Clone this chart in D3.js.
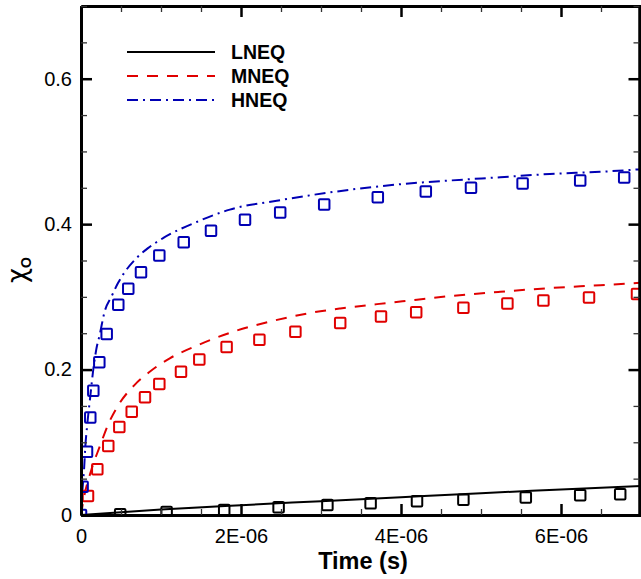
<!DOCTYPE html>
<html>
<head>
<meta charset="utf-8">
<script src="https://cdn.jsdelivr.net/npm/d3@7"></script>
<style>
  html, body { margin: 0; padding: 0; background: #fff; }
  svg { display: block; font-family: "Liberation Sans", Arial, sans-serif; }
</style>
</head>
<body>
<svg id="chart" width="641" height="579"></svg>
<script>
// Time in microseconds (scaled to seconds when plotted), chi_O mole fraction.
const seriesNames = ["LNEQ", "MNEQ", "HNEQ"];
const seriesColors = ["#000000", "#e00000", "#0000b4"];

// Simulation curves
const lneqLineT = [0, 1, 2, 3, 4, 5, 6, 7];
const lneqLineV = [0, 0.0075, 0.0135, 0.019, 0.0245, 0.030, 0.035, 0.040];

const mneqLineT = [0, 0.025, 0.129, 0.234, 0.3375, 0.484, 0.671, 0.859, 1.11, 1.45, 1.9, 2.4, 2.82, 3.24, 3.7, 4.2, 4.61, 5.24, 5.86, 6.49, 7.0];
const mneqLineV = [0, 0.017, 0.062, 0.094, 0.124, 0.154, 0.179, 0.197, 0.2155, 0.233, 0.252, 0.267, 0.277, 0.284, 0.290, 0.296, 0.301, 0.307, 0.312, 0.316, 0.3195];

const hneqLineT = [0, 0.012, 0.025, 0.04, 0.054, 0.075, 0.116, 0.15, 0.19, 0.234, 0.296, 0.379, 0.4625, 0.566, 0.691, 0.8375, 1.03, 1.446, 1.86, 2.49, 3.07, 3.49, 4.0, 4.61, 5.24, 5.86, 6.49, 7.0];
const hneqLineV = [0, 0.025, 0.044, 0.066, 0.094, 0.121, 0.163, 0.197, 0.227, 0.248, 0.280, 0.300, 0.319, 0.337, 0.353, 0.367, 0.381, 0.403, 0.420, 0.433, 0.443, 0.449, 0.455, 0.460, 0.4645, 0.469, 0.472, 0.4755];

// Reference points (square symbols)
const lneqPtsT = [0.49, 1.07, 1.79, 2.47, 3.08, 3.62, 4.2, 4.78, 5.56, 6.24, 6.74];
const lneqPtsV = [0.001, 0.004, 0.007, 0.0105, 0.0137, 0.016, 0.019, 0.021, 0.024, 0.027, 0.0285];

const mneqPtsT = [0.0875, 0.204, 0.341, 0.479, 0.634, 0.8, 0.979, 1.25, 1.479, 1.82, 2.23, 2.68, 3.24, 3.75, 4.19, 4.78, 5.33, 5.78, 6.35, 6.95];
const mneqPtsV = [0.026, 0.063, 0.095, 0.121, 0.142, 0.162, 0.180, 0.197, 0.214, 0.231, 0.241, 0.252, 0.264, 0.273, 0.279, 0.285, 0.291, 0.295, 0.299, 0.304];

const hneqPtsT = [0, 0.02, 0.075, 0.116, 0.154, 0.229, 0.321, 0.466, 0.591, 0.75, 0.979, 1.284, 1.625, 2.05, 2.49, 3.04, 3.71, 4.31, 4.875, 5.52, 6.24, 6.79];
const hneqPtsV = [0, 0.039, 0.087, 0.134, 0.171, 0.210, 0.249, 0.289, 0.311, 0.334, 0.357, 0.375, 0.391, 0.406, 0.416, 0.427, 0.437, 0.445, 0.450, 0.456, 0.460, 0.464];

const xMajorTicks = [0, 2e-6, 4e-6, 6e-6];
const xTickLabels = ["0", "2E-06", "4E-06", "6E-06"];
const yMajorTicks = [0, 0.2, 0.4, 0.6];
const yTickLabels = ["0", "0.2", "0.4", "0.6"];

const svg = d3.select("#chart");
const pLeft = 81, pRight = 641, pTop = 6, pBottom = 515;

const x = d3.scaleLinear().domain([0, 7e-6]).range([pLeft, pRight]);
const y = d3.scaleLinear().domain([0, 0.7]).range([pBottom, pTop]);

const zip = (ts, vs) => ts.map((t, i) => ({ t: t * 1e-6, v: vs[i] }));

const lines = [zip(lneqLineT, lneqLineV), zip(mneqLineT, mneqLineV), zip(hneqLineT, hneqLineV)];
const points = [zip(lneqPtsT, lneqPtsV), zip(mneqPtsT, mneqPtsV), zip(hneqPtsT, hneqPtsV)];
const dashes = [null, "11,9", "11,5,2,5"];

svg.append("defs").append("clipPath").attr("id", "plotClip")
  .append("rect").attr("x", pLeft).attr("y", pTop).attr("width", pRight - pLeft).attr("height", pBottom - pTop);

const plot = svg.append("g").attr("clip-path", "url(#plotClip)");

const lineGen = d3.line().x(d => x(d.t)).y(d => y(d.v)).curve(d3.curveMonotoneX);

lines.forEach((data, i) => {
  plot.append("path")
    .datum(data)
    .attr("d", lineGen)
    .attr("fill", "none")
    .attr("stroke", seriesColors[i])
    .attr("stroke-width", 2)
    .attr("stroke-dasharray", dashes[i]);
});

const sq = 10.5;
points.forEach((data, i) => {
  plot.append("g").selectAll("rect")
    .data(data)
    .join("rect")
    .attr("x", d => x(d.t) - sq / 2)
    .attr("y", d => y(d.v) - sq / 2)
    .attr("width", sq)
    .attr("height", sq)
    .attr("rx", 1)
    .attr("fill", "none")
    .attr("stroke", seriesColors[i])
    .attr("stroke-width", 2);
});

// Axes: ticks point into the plot on all four sides
const xMinor = d3.range(0, 7.01e-6, 0.5e-6).filter(v => !xMajorTicks.some(m => Math.abs(m - v) < 1e-12));
const yMinor = d3.range(0, 0.7001, 0.05).filter(v => !yMajorTicks.some(m => Math.abs(m - v) < 1e-9));
const majorLen = 11, minorLen = 6;

const axB = svg.append("g").attr("transform", `translate(0,${pBottom})`)
  .call(d3.axisBottom(x).tickValues(xMajorTicks).tickSizeInner(-majorLen).tickSizeOuter(0).tickPadding(14)
    .tickFormat((d, i) => xTickLabels[i]));
const axBm = svg.append("g").attr("transform", `translate(0,${pBottom})`)
  .call(d3.axisBottom(x).tickValues(xMinor).tickSizeInner(-minorLen).tickSizeOuter(0).tickFormat(""));
const axT = svg.append("g").attr("transform", `translate(0,${pTop})`)
  .call(d3.axisTop(x).tickValues(xMajorTicks).tickSizeInner(-majorLen).tickSizeOuter(0).tickFormat(""));
const axTm = svg.append("g").attr("transform", `translate(0,${pTop})`)
  .call(d3.axisTop(x).tickValues(xMinor).tickSizeInner(-minorLen).tickSizeOuter(0).tickFormat(""));
const axL = svg.append("g").attr("transform", `translate(${pLeft},0)`)
  .call(d3.axisLeft(y).tickValues(yMajorTicks).tickSizeInner(-majorLen).tickSizeOuter(0).tickPadding(9)
    .tickFormat((d, i) => yTickLabels[i]));
const axLm = svg.append("g").attr("transform", `translate(${pLeft},0)`)
  .call(d3.axisLeft(y).tickValues(yMinor).tickSizeInner(-minorLen).tickSizeOuter(0).tickFormat(""));
const axR = svg.append("g").attr("transform", `translate(${pRight - 1.5},0)`)
  .call(d3.axisRight(y).tickValues(yMajorTicks).tickSizeInner(-majorLen).tickSizeOuter(0).tickFormat(""));
const axRm = svg.append("g").attr("transform", `translate(${pRight - 1.5},0)`)
  .call(d3.axisRight(y).tickValues(yMinor).tickSizeInner(-minorLen).tickSizeOuter(0).tickFormat(""));

[axB, axBm, axT, axTm, axL, axLm, axR, axRm].forEach(g => {
  g.select(".domain").attr("stroke", "#000").attr("stroke-width", 3);
  g.selectAll(".tick line").attr("stroke", "#000").attr("stroke-width", 2.5);
  g.selectAll(".tick text").attr("fill", "#000").attr("font-size", 20)
    .attr("font-family", "'Liberation Sans', Arial, sans-serif");
});
[axBm, axTm, axLm, axRm].forEach(g => g.selectAll(".tick line").attr("stroke-width", 1.3).attr("stroke", "#333"));

// Axis titles
svg.append("text")
  .attr("x", 363).attr("y", 569)
  .attr("text-anchor", "middle")
  .attr("font-size", 23.5).attr("font-weight", "bold")
  .text("Time (s)");

const yTitle = svg.append("text")
  .attr("transform", "translate(26,283) rotate(-90)")
  .attr("text-anchor", "start");
yTitle.append("tspan").attr("font-size", 26).attr("font-family", "'DejaVu Sans', sans-serif").text("χ");
yTitle.append("tspan").attr("font-size", 14).attr("font-weight", "bold").attr("dy", 5).text("O");

// Legend
const legendY = [52, 76, 100];
const legend = svg.append("g");
seriesNames.forEach((name, i) => {
  legend.append("line")
    .attr("x1", 127).attr("x2", 215)
    .attr("y1", legendY[i]).attr("y2", legendY[i])
    .attr("stroke", seriesColors[i]).attr("stroke-width", 2)
    .attr("stroke-dasharray", dashes[i]);
  legend.append("text")
    .attr("x", 231).attr("y", legendY[i] + 6.5)
    .attr("font-size", 19.5).attr("font-weight", "bold")
    .text(name);
});
</script>
</body>
</html>
